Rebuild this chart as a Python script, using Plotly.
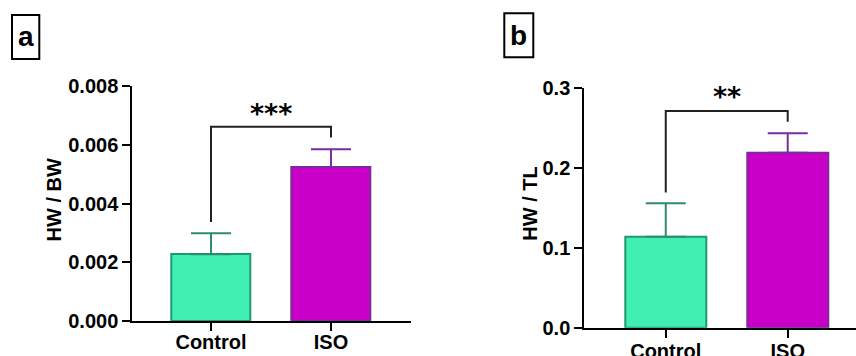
import plotly.graph_objects as go

W, H = 856, 356

categories = ["Control", "ISO"]
# Panel a: HW / BW
a_means = [0.00227, 0.00524]
a_err = [0.00072, 0.00061]
a_sig = "***"
a_bracket = {"top": 0.00661, "left_bottom": 0.00337, "right_bottom": 0.00625, "label_y": 0.00705}
a_yticks = [0.000, 0.002, 0.004, 0.006, 0.008]
# Panel b: HW / TL
b_means = [0.1137, 0.2188]
b_err = [0.0418, 0.0243]
b_sig = "**"
b_bracket = {"top": 0.271, "left_bottom": 0.169, "right_bottom": 0.2575, "label_y": 0.289}
b_yticks = [0.0, 0.1, 0.2, 0.3]

fill_colors = ["#40F0B2", "#C800C8"]
line_colors = ["#1E9A6E", "#7A2A9A"]
err_colors = ["#2E8B70", "#7B2D9B"]

FONT = "Liberation Sans, Arial, sans-serif"
BOLD = dict(family=FONT, size=20, color="black", weight="bold")

fig = go.Figure()


def px(x):
    return x / W


def py(y):
    return 1 - y / H


def add_panel(means, errs, xa, ya):
    for i, cat in enumerate(categories):
        fig.add_trace(go.Bar(
            x=[i], y=[means[i]],
            width=0.66,
            marker=dict(color=fill_colors[i], line=dict(color=line_colors[i], width=2)),
            error_y=dict(type="data", array=[errs[i]], arrayminus=[0], symmetric=False,
                         color=err_colors[i], thickness=2, width=20),
            xaxis=xa, yaxis=ya, showlegend=False, hoverinfo="skip",
        ))


add_panel(a_means, a_err, "x", "y")
add_panel(b_means, b_err, "x2", "y2")

axis_common = dict(showline=True, linecolor="black", linewidth=2, ticks="outside",
                   ticklen=8, tickwidth=2, tickcolor="black", showgrid=False,
                   zeroline=False, tickfont=BOLD, automargin=False)

fig.update_layout(
    width=W, height=H, margin=dict(l=0, r=0, t=0, b=0, pad=0, autoexpand=False),
    plot_bgcolor="white", paper_bgcolor="white", bargap=0,
    xaxis=dict(domain=[px(132.3), px(411)], range=[-0.656, 1.667], ticklabelstandoff=-6,
               tickvals=[0, 1], ticktext=categories, **axis_common),
    yaxis=dict(domain=[py(321), py(86)], range=[0, 0.008], tickvals=a_yticks,
               tickformat=".3f", **axis_common),
    xaxis2=dict(domain=[px(584.3), 1.0], range=[-0.668, 1.56], ticklabelstandoff=-4,
                tickvals=[0, 1], ticktext=categories, anchor="y2", **axis_common),
    yaxis2=dict(domain=[py(327.7), py(87.7)], range=[0, 0.3], tickvals=b_yticks,
                tickformat=".1f", anchor="x2", **axis_common),
)


def add_bracket(xref, yref, br, sig):
    path = (f"M 0,{br['left_bottom']} L 0,{br['top']} L 1,{br['top']} L 1,{br['right_bottom']}")
    fig.add_shape(type="path", path=path, xref=xref, yref=yref,
                  line=dict(color="#222222", width=2))
    fig.add_annotation(x=0.5, y=br["label_y"], xref=xref, yref=yref, text=sig,
                       showarrow=False, xanchor="center", yanchor="middle",
                       font=dict(family="DejaVu Sans, sans-serif", size=27, color="black",
                                 weight="bold"))


add_bracket("x", "y", a_bracket, a_sig)
add_bracket("x2", "y2", b_bracket, b_sig)

# axis titles
fig.add_annotation(x=px(53), y=py(200.5), xref="paper", yref="paper", text="HW / BW",
                   textangle=-90, showarrow=False, font=BOLD, xanchor="center", yanchor="middle")
fig.add_annotation(x=px(530), y=py(203.7), xref="paper", yref="paper", text="HW / TL",
                   textangle=-90, showarrow=False, font=BOLD, xanchor="center", yanchor="middle")

# panel labels
for label, (x0, y0, x1, y1) in [("a", (12, 15, 39.3, 59)), ("b", (504.3, 13.3, 533.3, 57.3))]:
    fig.add_shape(type="rect", xref="paper", yref="paper", x0=px(x0), x1=px(x1),
                  y0=py(y1), y1=py(y0), line=dict(color="black", width=2))
    fig.add_annotation(x=px((x0 + x1) / 2), y=py((y0 + y1) / 2), xref="paper", yref="paper",
                       text=label, showarrow=False, xanchor="center", yanchor="middle",
                       font=dict(family=FONT, size=28, color="black", weight="bold"))

fig.write_html("out.html")
